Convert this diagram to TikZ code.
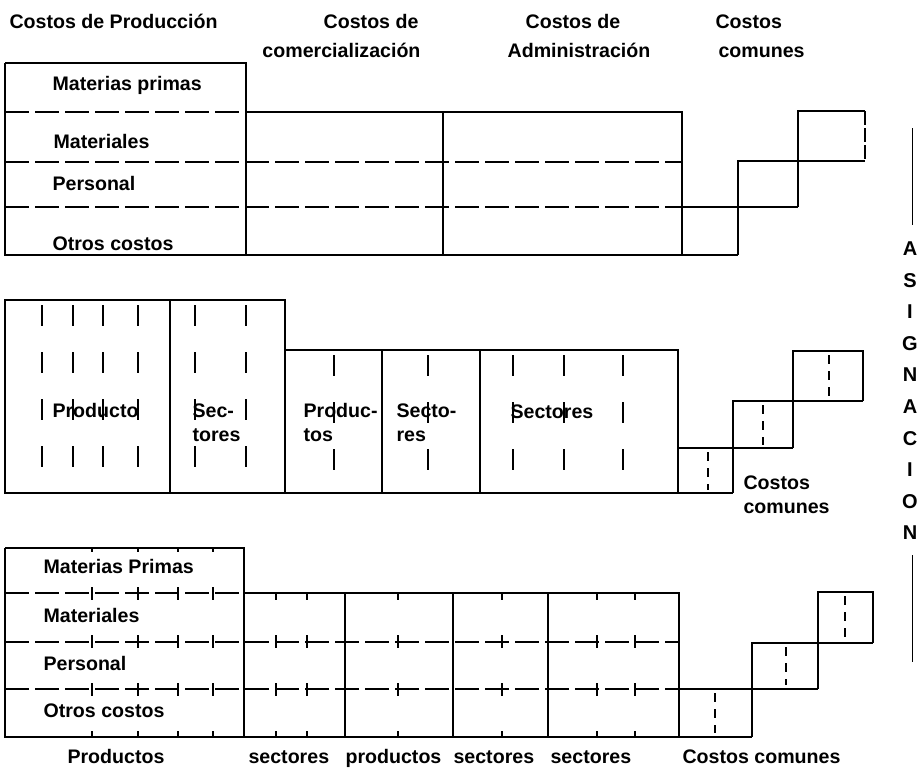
\documentclass[tikz,border=0pt]{standalone}
\usepackage{fontspec}
\setmainfont{Liberation Sans}
\begin{document}
\begin{tikzpicture}[x=1pt,y=-1pt,line width=1.1pt,
  hd/.style={dash pattern=on 24pt off 6pt},
  vd/.style={line width=1.5pt,dash pattern=on 21pt off 26pt},
  vb/.style={line width=1.5pt,dash pattern=on 13pt off 35pt},
  vs/.style={line width=1.5pt,dash pattern=on 9pt off 7pt},
  lab/.style={font=\bfseries\fontsize{19.6}{29}\selectfont,inner sep=0pt,anchor=base west},
  letr/.style={font=\bfseries\fontsize{20}{20}\selectfont,inner sep=0pt,anchor=center}]
\useasboundingbox (0,0) rectangle (920,769);
% ---------- headings ----------
\node[lab] (h1) at (9,28) {Costos de Producción};
\node[lab,anchor=base east] (h2a) at (419,28) {Costos de};
\node[lab,anchor=base east] (h2b) at (421,57) {comercialización};
\node[lab,anchor=base] (h3a) at (573,28) {Costos de};
\node[lab,anchor=base] (h3b) at (579,57) {Administración};
\node[lab] (h4a) at (715,28) {Costos};
\node[lab] (h4b) at (718,57) {comunes};
% ---------- top section ----------
\draw (5,63) -- (246,63) -- (246,255);
\draw (5,63) -- (5,255) -- (738,255);
\draw[hd] (5,112) -- (246,112);
\draw (246,112) -- (682,112) -- (682,255);
\draw (443,112) -- (443,255);
\draw[hd] (5,162) -- (682,162);
\draw[hd] (5,207) -- (682,207);
\draw (682,207) -- (798,207);
\draw (738,255) -- (738,161) -- (865,161);
\draw (798,207) -- (798,111) -- (865,111);
\draw[dash pattern=on 14pt off 3pt] (865,111) -- (865,161);
\node[lab] (t1) at (52,90) {Materias primas};
\node[lab] (t2) at (53,148) {Materiales};
\node[lab] (t3) at (52,190) {Personal};
\node[lab] (t4) at (52,250) {Otros costos};
% ---------- middle section ----------
\draw (5,300) rectangle (285,493);
\draw (170,300) -- (170,493);
\draw (285,350) -- (678,350) -- (678,493);
\draw (285,493) -- (733,493);
\draw (382,350) -- (382,493);
\draw (480,350) -- (480,493);
\draw (678,448) -- (793,448);
\draw (733,493) -- (733,401) -- (863,401);
\draw (793,448) -- (793,351) -- (863,351) -- (863,401);
\foreach \x in {42,73,103,138,195,246} \draw[vd] (\x,305) -- (\x,493);
\foreach \x in {334,428,513,564,623} \draw[vd] (\x,355) -- (\x,493);
\draw[vs] (708,452) -- (708,490);
\draw[vs] (763,405) -- (763,445);
\draw[vs] (829,355) -- (829,398);
\node[lab] (m1) at (52,417) {Producto};
\node[lab] (m2a) at (192,417) {Sec-};
\node[lab] (m2b) at (192,441) {tores};
\node[lab] (m3a) at (303,417) {Produc-};
\node[lab] (m3b) at (303,441) {tos};
\node[lab] (m4a) at (396,417) {Secto-};
\node[lab] (m4b) at (396,441) {res};
\node[lab] (m5) at (510,418) {Sectores};
\node[lab] (m6a) at (743,489) {Costos};
\node[lab] (m6b) at (743,513) {comunes};
% ---------- bottom section ----------
\draw (5,548) -- (244,548) -- (244,737);
\draw (5,548) -- (5,737) -- (752,737);
\draw[hd] (5,593) -- (244,593);
\draw (244,593) -- (679,593) -- (679,737);
\foreach \x in {345,453,548} \draw (\x,593) -- (\x,737);
\draw[hd] (5,642) -- (679,642);
\draw[hd] (5,689) -- (679,689);
\draw (679,689) -- (818,689);
\draw (752,737) -- (752,643) -- (873,643);
\draw (818,689) -- (818,592) -- (873,592) -- (873,643);
\foreach \x in {92,138,178,213} \draw[vb,dash phase=9pt] (\x,548) -- (\x,737);
\foreach \x in {276,307,398,502,597,635} \draw[vb,dash phase=6pt] (\x,593) -- (\x,737);
\draw[vs] (715,693) -- (715,733);
\draw[vs] (786,647) -- (786,685);
\draw[vs] (845,596) -- (845,639);
\node[lab] (b1) at (43,573) {Materias Primas};
\node[lab] (b2) at (43,622) {Materiales};
\node[lab] (b3) at (43,670) {Personal};
\node[lab] (b4) at (43,717) {Otros costos};
\node[lab] (c1) at (67,763) {Productos};
\node[lab] (c2) at (248,763) {sectores};
\node[lab] (c3) at (345,763) {productos};
\node[lab] (c4) at (453,763) {sectores};
\node[lab] (c5) at (550,763) {sectores};
\node[lab] (c6) at (682,763) {Costos comunes};
% ---------- ASIGNACION ----------
\coordinate (r1) at (912,128);
\coordinate (r2) at (912,225);
\coordinate (r3) at (912,555);
\coordinate (r4) at (912,662);
\draw[line width=0.9pt] (r1) -- (r2);
\draw[line width=0.9pt] (r3) -- (r4);
\foreach \l/\y [count=\i] in {A/249,S/281,I/312,G/344,N/375,A/407,C/439,I/470,O/502,N/533}
  \node[letr] (l\i) at (910,\y) {\l};
\end{tikzpicture}
\end{document}
